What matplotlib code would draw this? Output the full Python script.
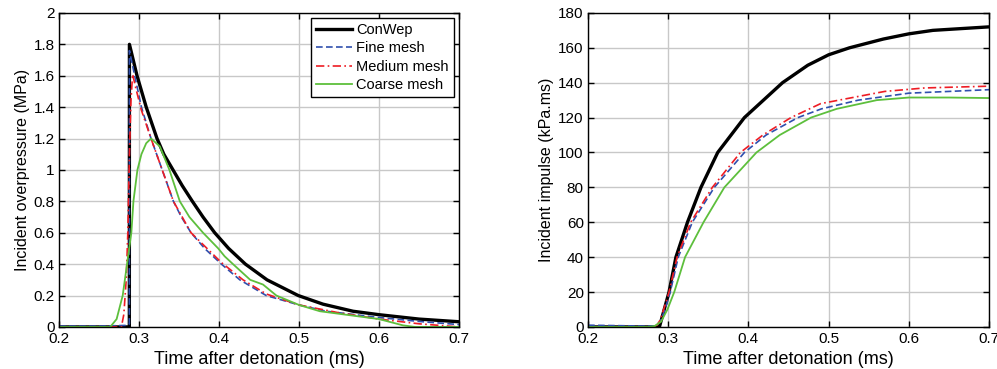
import matplotlib.pyplot as plt

plt.rcParams['font.family'] = ['Liberation Sans', 'DejaVu Sans']

# overpressure (MPa) vs time (ms)
t_conwep_p = [0.20, 0.2879, 0.288, 0.2975, 0.309, 0.3225, 0.331, 0.3425, 0.354, 0.3667, 0.38, 0.3946,
              0.412, 0.433, 0.46, 0.499, 0.53, 0.5675, 0.60, 0.65, 0.70]
p_conwep = [0.0, 0.0, 1.80, 1.60, 1.40, 1.20, 1.10, 1.00, 0.90, 0.80, 0.70, 0.60,
            0.50, 0.40, 0.30, 0.20, 0.145, 0.10, 0.078, 0.05, 0.033]

t_fine_p = [0.20, 0.25, 0.286, 0.2879, 0.288, 0.2946, 0.303, 0.315, 0.329, 0.343, 0.353, 0.365, 0.382,
            0.403, 0.426, 0.459, 0.50, 0.534, 0.60, 0.65, 0.70]
p_fine = [0.005, 0.005, 0.01, 0.02, 1.76, 1.60, 1.40, 1.20, 1.00, 0.80, 0.70, 0.60, 0.50,
          0.40, 0.30, 0.20, 0.14, 0.10, 0.06, 0.035, 0.015]

t_medium_p = [0.20, 0.278, 0.281, 0.284, 0.286, 0.288, 0.290, 0.292, 0.296, 0.303, 0.315, 0.329, 0.343,
              0.365, 0.403, 0.43, 0.459, 0.50, 0.55, 0.60, 0.65, 0.70]
p_medium = [0.0, 0.0, 0.08, 0.30, 0.60, 1.10, 1.45, 1.61, 1.52, 1.38, 1.20, 1.00, 0.80,
            0.60, 0.41, 0.30, 0.21, 0.14, 0.09, 0.05, 0.02, 0.0]

t_coarse_p = [0.20, 0.264, 0.272, 0.2796, 0.285, 0.2904, 0.293, 0.298, 0.303, 0.309, 0.315, 0.326, 0.338,
              0.351, 0.363, 0.38, 0.399, 0.407, 0.4175, 0.439, 0.455, 0.4717, 0.50, 0.526, 0.60, 0.63,
              0.645, 0.70]
p_coarse = [0.0, 0.0, 0.05, 0.20, 0.40, 0.60, 0.80, 1.00, 1.10, 1.17, 1.20, 1.15, 1.00,
            0.80, 0.70, 0.60, 0.50, 0.45, 0.40, 0.30, 0.27, 0.20, 0.14, 0.10, 0.05, 0.01,
            0.0, 0.0]

# impulse (kPa.ms) vs time (ms)
t_conwep_i = [0.20, 0.289, 0.295, 0.301, 0.3096, 0.324, 0.3408, 0.3617, 0.395, 0.4425, 0.474, 0.50,
              0.526, 0.568, 0.60, 0.63, 0.70]
i_conwep = [0.0, 0.0, 10, 20, 40, 60, 80, 100, 120, 140, 150, 156,
            160, 165, 168, 170, 172]

t_fine_i = [0.20, 0.27, 0.284, 0.29, 0.296, 0.3025, 0.3125, 0.330, 0.3575, 0.395, 0.422, 0.4617, 0.491,
            0.537, 0.60, 0.70]
i_fine = [1.0, 0.5, 0.5, 3, 10, 20, 40, 60, 80, 100, 110, 120, 125,
          130, 134, 136]

t_medium_i = [0.20, 0.28, 0.286, 0.29, 0.295, 0.301, 0.311, 0.328, 0.355, 0.39, 0.418, 0.453, 0.49,
              0.57, 0.62, 0.70]
i_medium = [0.0, 0.0, 1, 4, 11, 20, 40, 60, 80, 100, 110, 120, 128,
            135, 137, 138]

t_coarse_i = [0.20, 0.275, 0.283, 0.291, 0.299, 0.3075, 0.321, 0.344, 0.37, 0.41, 0.439, 0.478, 0.51,
              0.56, 0.60, 0.65, 0.70]
i_coarse = [0.0, 0.0, 0.5, 3, 10, 20, 40, 60, 80, 100, 110, 120, 125,
            130, 131.5, 131.5, 131.2]

labels = ['ConWep', 'Fine mesh', 'Medium mesh', 'Coarse mesh']
colors = ['black', '#2f4fae', '#ee1c24', '#5dbf3c']
dash_fine = (0, (4, 2))
dash_medium = (0, (5, 2, 1, 2))

fig = plt.figure(figsize=(9.97, 3.69), dpi=100)
ax1 = fig.add_axes([0.0592, 0.114, 0.4012, 0.851])
ax2 = fig.add_axes([0.5898, 0.114, 0.4022, 0.851])

ax1.plot(t_conwep_p, p_conwep, color=colors[0], lw=2.4, label=labels[0])
ax1.plot(t_fine_p, p_fine, color=colors[1], lw=1.2, ls=dash_fine, label=labels[1])
ax1.plot(t_medium_p, p_medium, color=colors[2], lw=1.2, ls=dash_medium, label=labels[2])
ax1.plot(t_coarse_p, p_coarse, color=colors[3], lw=1.3, label=labels[3])

ax2.plot(t_conwep_i, i_conwep, color=colors[0], lw=2.4)
ax2.plot(t_fine_i, i_fine, color=colors[1], lw=1.2, ls=dash_fine)
ax2.plot(t_medium_i, i_medium, color=colors[2], lw=1.2, ls=dash_medium)
ax2.plot(t_coarse_i, i_coarse, color=colors[3], lw=1.3)

ax1.set_ylim(0, 2)
ax1.set_yticks([0, 0.2, 0.4, 0.6, 0.8, 1, 1.2, 1.4, 1.6, 1.8, 2])
ax1.set_yticklabels(['0', '0.2', '0.4', '0.6', '0.8', '1', '1.2', '1.4', '1.6', '1.8', '2'])
ax1.set_ylabel('Incident overpressure (MPa)', fontsize=11.5, labelpad=3)

ax2.set_ylim(0, 180)
ax2.set_yticks(range(0, 181, 20))
ax2.set_ylabel('Incident impulse (kPa.ms)', fontsize=11.5, labelpad=3)

for ax in (ax1, ax2):
    ax.set_xlim(0.2, 0.7)
    ax.set_xticks([0.2, 0.3, 0.4, 0.5, 0.6, 0.7])
    ax.set_xticklabels(['0.2', '0.3', '0.4', '0.5', '0.6', '0.7'])
    ax.set_xlabel('Time after detonation (ms)', fontsize=13, labelpad=3)
    ax.grid(True, color='#c8c8c8', lw=1.0)
    ax.set_axisbelow(True)
    ax.tick_params(direction='in', top=True, right=True, labelsize=11, length=4, width=1)
    ax.tick_params(axis='x', pad=4)
    ax.tick_params(axis='y', pad=3)
    for s in ax.spines.values():
        s.set_linewidth(1.0)

leg = ax1.legend(loc='upper right', fontsize=10.5, frameon=True, fancybox=False, edgecolor='black',
                 framealpha=1, borderpad=0.35, handlelength=2.45, handletextpad=0.3,
                 labelspacing=0.3, borderaxespad=0.35)
leg.get_frame().set_linewidth(1.0)

fig.savefig('out.png', dpi=100)
